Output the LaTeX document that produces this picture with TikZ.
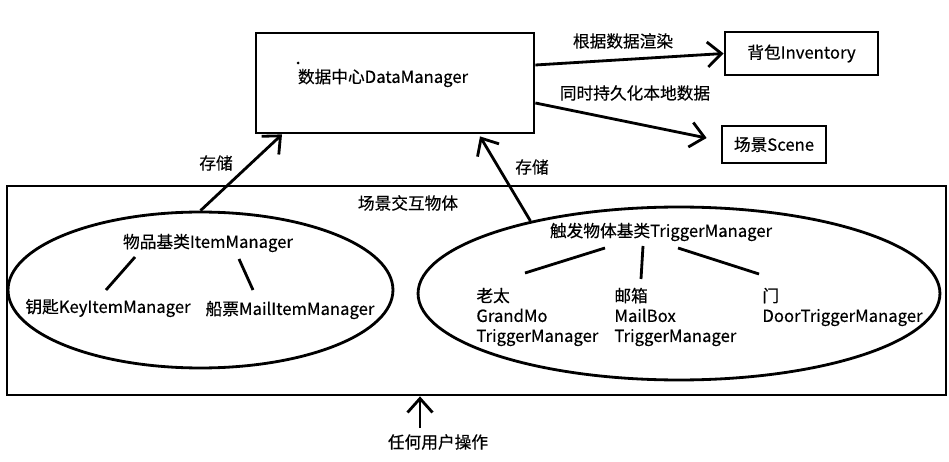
\documentclass[tikz,border=0pt]{standalone}
\usepackage{fontspec}
\setmainfont{Noto Sans CJK SC}[UprightFeatures={FakeBold=0.4}]
\usetikzlibrary{shapes.geometric,arrows.meta,calc}

\begin{document}
\begin{tikzpicture}[x=0.02cm,y=-0.02cm,line width=1.6pt,
    font=\fontsize{9.5pt}{11.4pt}\selectfont,
    box/.style={draw,rectangle,inner sep=0pt},
    oval/.style={draw,ellipse,inner sep=0pt},
    txt/.style={inner sep=0pt},
    arr/.style={-{Straight Barb[length=0.28cm,width=0.5cm]}}]
    \useasboundingbox (0,0) rectangle (949,462);
    \node[box,minimum width=5.56cm,minimum height=2cm] (dm) at (395,83) {};
    \node[txt] (dmtext) at (383,78) {数据中心DataManager};
    \fill (298,63) circle (1.5);
    \node[box,minimum width=3.06cm,minimum height=0.86cm] (inv) at (801.5,53.5) {背包Inventory};
    \node[box,minimum width=2.08cm,minimum height=0.74cm] (scene) at (774,144.5) {场景Scene};
    \node[box,minimum width=18.78cm,minimum height=4.18cm] (frame) at (476.5,290.5) {};
    \node[txt] (framelabel) at (408,203) {场景交互物体};
    \node[oval,minimum width=7.7cm,minimum height=3.12cm] (items) at (200.5,290) {};
    \node[oval,minimum width=10.44cm,minimum height=3.46cm] (trig) at (679,293.5) {};
    \node[txt] (itembase) at (208,243) {物品基类ItemManager};
    \node[txt] (key) at (108,308) {钥匙KeyItemManager};
    \node[txt] (mailitem) at (290,310) {船票MailItemManager};
    \node[txt] (trigbase) at (661,232) {触发物体基类TriggerManager};
    \node[txt,align=left,anchor=west] (grandmo) at (475,317) {老太\\GrandMo\\TriggerManager};
    \node[txt,align=left,anchor=west] (mailbox) at (613,317) {邮箱\\MailBox\\TriggerManager};
    \node[txt,align=left,anchor=west] (door) at (761,307) {门\\DoorTriggerManager};
    \node[txt] (render) at (623,41) {根据数据渲染};
    \node[txt] (persist) at (635,93) {同时持久化本地数据};
    \node[txt] (storeL) at (216,163) {存储};
    \node[txt] (storeR) at (532,167) {存储};
    \node[txt] (ops) at (438,442) {任何用户操作};
    \coordinate (opstail) at (420,428);
    \draw[arr] ($(dm.east)+(0,-18)$) -- (inv.west);
    \draw[arr] ($(dm.east)+(0,20)$) -- ($(scene.west)+(-14,-6.5)$);
    \draw[arr] (items.north) -- ($(dm.south)+(-113,0)$);
    \draw[arr] (trig.154) -- ($(dm.south)+(85,2)$);
    \draw[arr] (opstail) -- (opstail |- frame.south);
    \draw ($(itembase)+(-73,14)$) -- ($(key)+(-2,-18)$);
    \draw ($(itembase)+(31,16)$) -- ($(mailitem)+(-37,-20)$);
    \draw ($(trigbase)+(-56,16)$) -- ($(grandmo.west)+(50,-44)$);
    \draw ($(trigbase)+(-18,14)$) -- ($(mailbox.west)+(28,-38)$);
    \draw ($(trigbase)+(17,16)$) -- ($(door.west)+(-2,-33)$);
\end{tikzpicture}
\end{document}
